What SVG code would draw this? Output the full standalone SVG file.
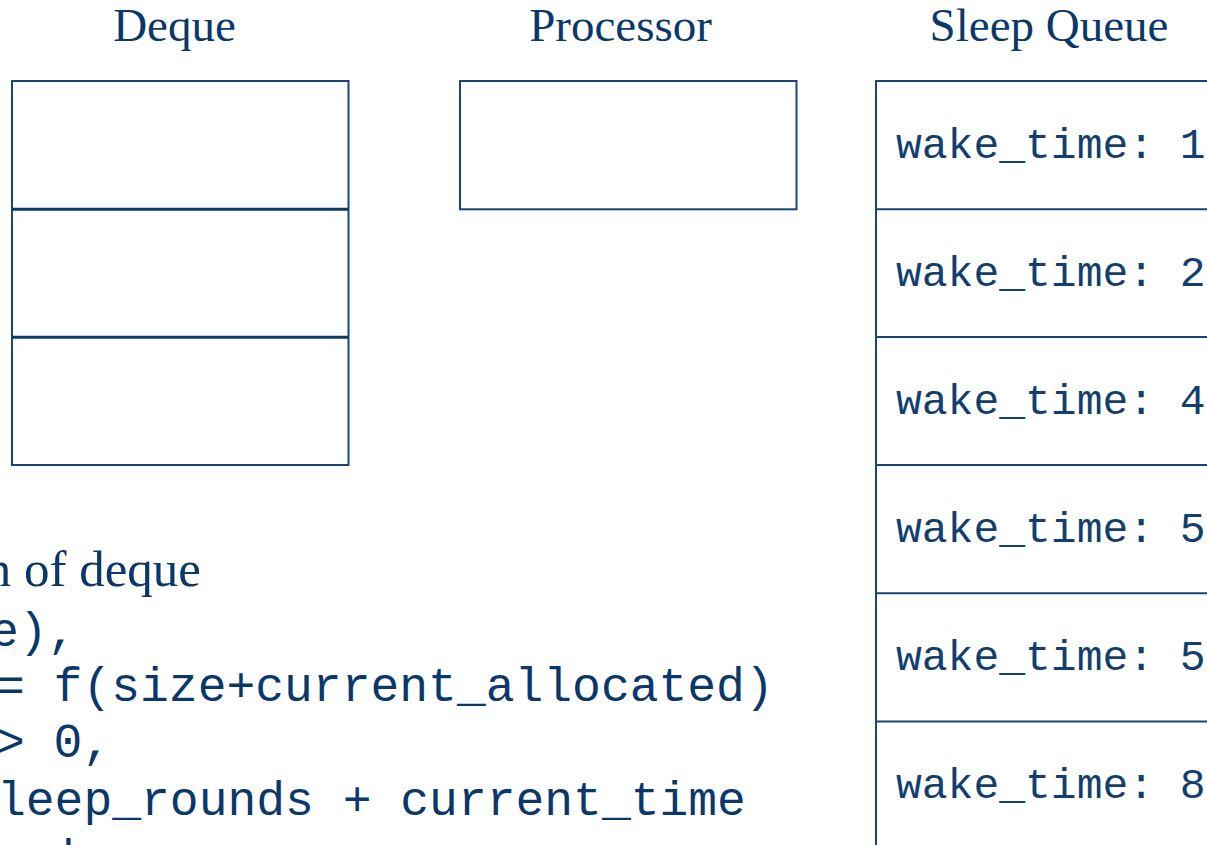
<svg xmlns="http://www.w3.org/2000/svg" width="1207" height="845" viewBox="0 0 1207 845">
  <style>
    .title { font-family: "Liberation Serif", "Times New Roman", serif; font-size: 47px; fill: #0b386b; }
    .body { font-family: "Liberation Serif", "Times New Roman", serif; font-size: 51px; fill: #0b386b; }
    .code { font-family: "Liberation Mono", "Courier New", monospace; font-size: 48px; fill: #0b386b; }
    .wake { font-family: "Liberation Mono", "Courier New", monospace; font-size: 43px; fill: #123f70; }
    .box { fill: #ffffff; stroke: #184575; stroke-width: 2; }
    .div { stroke: #0b386b; stroke-width: 3; fill: none; }
    .qdiv { stroke: #184575; stroke-width: 2; fill: none; }
  </style>
  <rect x="0" y="0" width="1207" height="845" fill="#ffffff"/>

  <!-- column headings -->
  <text class="title" x="174.5" y="41" text-anchor="middle">Deque</text>
  <text class="title" x="620.5" y="41" text-anchor="middle">Processor</text>
  <text class="title" x="1049" y="41" text-anchor="middle">Sleep Queue</text>

  <!-- deque: three stacked slots -->
  <g id="deque">
    <rect class="box" x="12" y="81" width="336.5" height="384"/>
    <line class="div" x1="12" y1="209.3" x2="348.5" y2="209.3"/>
    <line class="div" x1="12" y1="337.3" x2="348.5" y2="337.3"/>
  </g>

  <!-- processor slot -->
  <g id="processor">
    <rect class="box" x="460" y="81" width="336.5" height="128.3"/>
  </g>

  <!-- sleep queue, ordered by wake time -->
  <g id="sleep-queue">
    <rect class="box" x="876" y="81" width="340" height="780"/>
    <line class="qdiv" x1="876" y1="209.3" x2="1207" y2="209.3"/>
    <line class="qdiv" x1="876" y1="337" x2="1207" y2="337"/>
    <line class="qdiv" x1="876" y1="465" x2="1207" y2="465"/>
    <line class="qdiv" x1="876" y1="593.3" x2="1207" y2="593.3"/>
    <line class="qdiv" x1="876" y1="721.5" x2="1207" y2="721.5"/>
    <text class="wake" x="896" y="158">wake_time: 1</text>
    <text class="wake" x="896" y="286">wake_time: 2</text>
    <text class="wake" x="896" y="414">wake_time: 4</text>
    <text class="wake" x="896" y="542">wake_time: 5</text>
    <text class="wake" x="896" y="670">wake_time: 5</text>
    <text class="wake" x="896" y="798">wake_time: 8</text>
  </g>

  <!-- explanatory notes, left edge runs off the page -->
  <g id="notes">
    <text class="body" x="201" y="586" text-anchor="end">n of deque</text>
    <text class="code" x="-10" y="646">e),</text>
    <text class="code" x="-4" y="701">= f(size+current_allocated)</text>
    <text class="code" x="-4" y="757">&gt; 0,</text>
    <text class="code" x="-3" y="815">leep_rounds + current_time</text>
    <text class="code" x="46" y="873">d</text>
  </g>
</svg>
